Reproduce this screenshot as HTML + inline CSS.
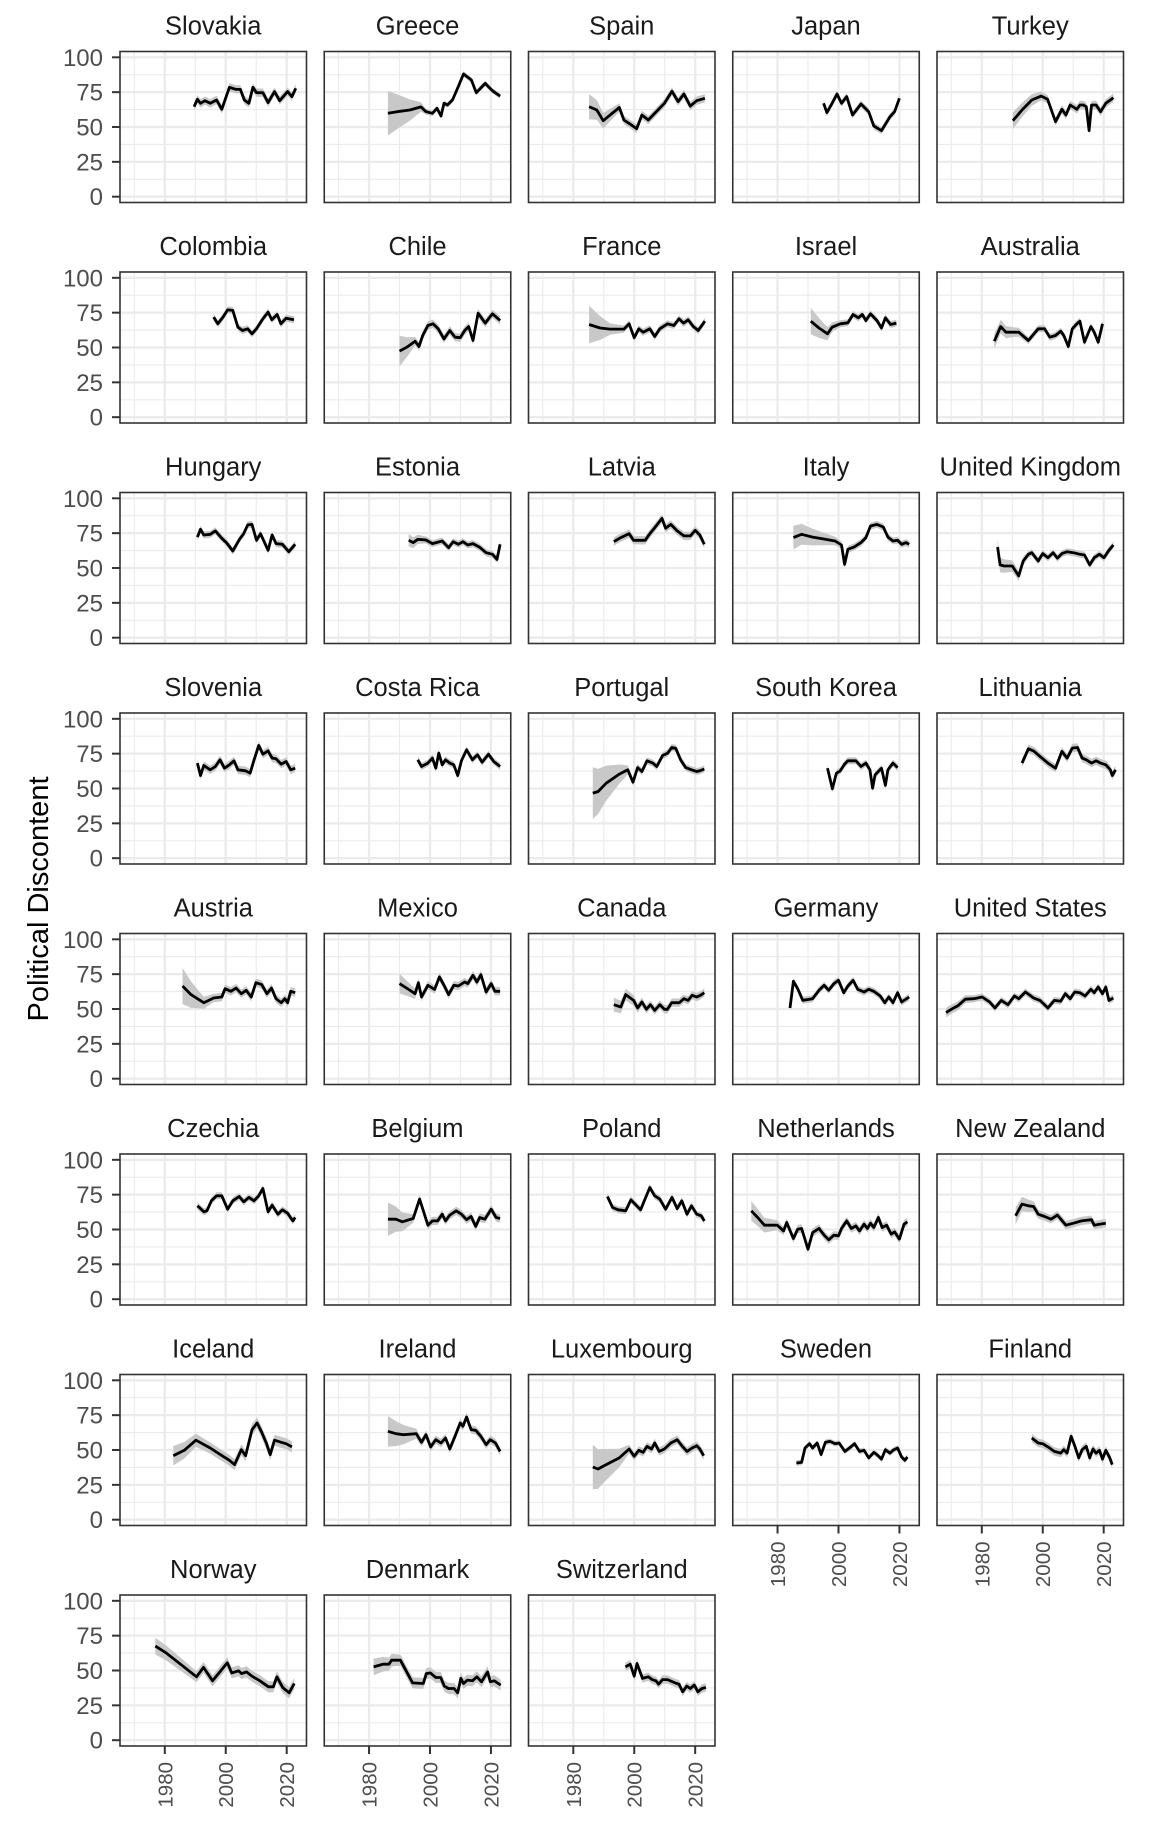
<!DOCTYPE html>
<html><head><meta charset="utf-8"><style>
html,body{margin:0;padding:0;background:#fff;}
svg{display:block;font-family:"Liberation Sans",Arial,sans-serif;}
</style></head><body>
<svg id="chart" width="1152" height="1824" viewBox="0 0 1152 1824" xmlns="http://www.w3.org/2000/svg">
<text transform="translate(48,899) rotate(-90)" text-anchor="middle" font-size="29" fill="#000">Political Discontent</text>
</svg>
<script>
const countries = ["Slovakia","Greece","Spain","Japan","Turkey","Colombia","Chile","France","Israel","Australia","Hungary","Estonia","Latvia","Italy","United Kingdom","Slovenia","Costa Rica","Portugal","South Korea","Lithuania","Austria","Mexico","Canada","Germany","United States","Czechia","Belgium","Poland","Netherlands","New Zealand","Iceland","Ireland","Luxembourg","Sweden","Finland","Norway","Denmark","Switzerland"];
const seriesYears = [
[1989.6,1990.7,1991.7,1993.2,1994.9,1997,1998.7,2001.2,2003.4,2004.8,2006.1,2007.6,2008.9,2010.1,2012.2,2013.9,2016,2017.7,2020.3,2021.7,2023],
[1986.2,1989.2,1993.4,1997,1998.7,2000.8,2002.3,2003.6,2004.6,2005.7,2007.4,2009.3,2011,2013.6,2015.2,2018.1,2020.5,2023],
[1985.2,1987.7,1989.8,1995.1,1996.6,1998.3,2000.8,2002.5,2004.6,2006.7,2009.9,2012.4,2014.4,2016.3,2018.4,2020.5,2023.2],
[1995.1,1996.2,1997.9,1999.5,2001,2002.7,2004.6,2007.4,2009.9,2011.6,2014.1,2016.9,2018.4,2020],
[1990.2,1993.2,1996.4,1999.5,2001.6,2004.2,2006.3,2007.6,2009,2011.2,2012.2,2013.3,2014.3,2015.2,2016,2017.5,2019,2020.7,2023.2],
[1996,1997.4,1999.1,2000.6,2002.3,2004,2005.5,2007.2,2008.6,2010.1,2012.2,2013.9,2015.1,2016.9,2018.1,2019.8,2022.4],
[1990,1992.4,1995.1,1996.4,1997.6,1999.3,2001,2002.7,2004.6,2006.5,2008.2,2009.9,2011.4,2012.7,2014.1,2015.8,2018.1,2020.5,2023],
[1985.2,1988.8,1992,1996.6,1998.3,2000,2001.5,2002.9,2005.1,2006.7,2008.4,2010.9,2013,2014.7,2016.2,2017.7,2019.4,2021,2023.2],
[1990.9,1993.6,1996.4,1997.9,2000.6,2003.1,2004.8,2006.5,2007.8,2009,2010.5,2012.6,2014.1,2015.4,2017.1,2019],
[1984.1,1986.2,1987.9,1992.1,1995.3,1998.5,2000.6,2002.3,2004.2,2005.9,2006.9,2008.4,2009.7,2011.2,2012.2,2013.7,2015.8,2016.9,2018.2,2019.6],
[1990.7,1991.7,1992.8,1994.9,1996.6,1998.7,2000.2,2002.3,2004.5,2005.9,2007.2,2008.6,2010.1,2011.4,2013.9,2015.2,2016.5,2018.6,2020.7,2022.8],
[1993,1994.5,1996,1998.7,2000.8,2004,2006.1,2007.6,2009.3,2010.8,2012.4,2014.1,2016.2,2018.4,2020.5,2022,2023],
[1993.3,1995.6,1998.3,1999.8,2003.6,2005.1,2006.7,2009.1,2010.3,2012,2014.1,2016.3,2018.4,2020,2021.5,2023],
[1985.2,1987.9,1991.5,1994.7,1998.9,2001,2002,2003.1,2005.1,2007.4,2009,2010.5,2012.6,2014.7,2016.2,2017.9,2019.4,2020.7,2022.2,2023.2],
[1985.2,1986,1987.3,1990,1992.1,1993.6,1995.3,1996.4,1998.5,2000,2001.7,2003.4,2004.8,2006.3,2008,2010.1,2012.2,2013.7,2015.4,2016.9,2018.6,2020.1,2021.7,2023.2],
[1990.7,1991.7,1992.8,1994.9,1996.6,1998.1,1999.6,2001.2,2002.7,2004,2006.5,2008,2009.3,2010.8,2012.2,2013.9,2015.2,2016.5,2018.2,2019.8,2021.3,2022.8],
[1996,1997.2,1999.3,2000.8,2001.9,2002.9,2004,2005.1,2006.5,2007.8,2009.1,2010.3,2012,2013.9,2015.6,2017.1,2019.2,2020.9,2023],
[1986.4,1988.1,1990.8,1995.1,1997.9,1999.6,2001.1,2002.5,2004.2,2006.1,2007.4,2009.3,2011,2012.3,2013.6,2015.2,2016.9,2018.8,2020.5,2021.5,2023],
[1996.4,1998,1999.3,2000.6,2002,2003.1,2005.7,2007.4,2009,2010.3,2011.2,2012,2014.1,2015.4,2016.2,2017.9,2019.4],
[1993.2,1995.3,1997,1999.1,2001.7,2004.2,2006.3,2008,2009.7,2011.4,2012.9,2014.3,2016,2017.5,2019,2020.7,2022.2,2022.8,2023.9],
[1985.8,1988.6,1990.7,1992.8,1996,1998.7,1999.8,2001.7,2003.4,2005.1,2006.7,2008.4,2009.9,2011.8,2013.5,2015,2016.5,2018.2,2019.4,2020.3,2021.3,2022.8],
[1990,1993,1995.1,1996.2,1997.2,1999.3,2001.5,2003.1,2004.6,2006.1,2007.8,2009.3,2011.4,2012.4,2014.1,2015.4,2016.7,2018.4,2020.1,2021.3,2023],
[1993.3,1995.6,1997.2,1999.8,2001.1,2002.5,2004,2005.3,2006.7,2008.4,2009.9,2010.9,2012.3,2014.8,2016.3,2017.7,2019,2020.5,2021.7,2023],
[1984.1,1985.2,1986.6,1988.3,1991.5,1993.6,1995.3,1996.8,1998.5,2000,2001.7,2003.1,2004.8,2006.3,2008.4,2009.9,2011.6,2013.7,2015.2,2016.5,2017.9,2019.4,2020.7,2023.2],
[1968.3,1970,1972.1,1974.6,1977.4,1980.1,1982.6,1984.3,1986.4,1988.6,1990.7,1992.1,1994.3,1997,1999.1,2001.7,2003.8,2005.9,2007.4,2009,2010.5,2012.2,2013.9,2015.8,2016.9,2018.2,2019.6,2020.7,2021.7,2023.2],
[1990.7,1991.7,1992.8,1993.8,1995.3,1997,1998.7,2000.6,2002.3,2004.4,2005.9,2007.6,2009.3,2010.8,2012.2,2013.9,2015.2,2017.1,2018.6,2020.3,2022,2022.8],
[1986.2,1988.8,1990.9,1994.5,1996.6,1999.3,2000.8,2002.5,2004,2005.1,2006.5,2008.6,2010.3,2012,2013.5,2015,2016.3,2018,2020.1,2021.7,2023],
[1991.2,1992.9,1994.7,1997.2,1998.9,2002.1,2005.1,2006.7,2008.4,2010.3,2012.4,2014.1,2015.6,2017.3,2018.8,2020.5,2022,2023],
[1971.4,1973.5,1975.7,1979.9,1982,1983,1985.2,1986.6,1987.9,1990,1991.5,1993.6,1995.3,1996.8,1998.5,2000,2001,2002.7,2004.2,2005.7,2006.9,2008.4,2009.5,2010.5,2011.6,2013.1,2014.3,2015.8,2017.3,2018.4,2020,2021.5,2022.6],
[1991.1,1993.2,1995.3,1997,1998.5,2000.6,2002.7,2004.8,2007.6,2010.1,2012.7,2016,2016.9,2018.6,2020.7],
[1982.8,1986.4,1990.2,1994.9,1999.1,2001.2,2002.9,2005.1,2006.5,2008.6,2010.3,2011.8,2013.3,2014.6,2016,2018.2,2019.8,2021.7],
[1986.2,1988.8,1991.3,1995.5,1997.2,1998.7,2000.2,2001.9,2003.6,2005.1,2006.5,2008.2,2009.9,2010.8,2012,2013.5,2015,2016.7,2018.4,2019.8,2021.5,2023],
[1986.4,1988.1,1990.8,1995.1,1998.3,2000,2001.5,2002.9,2004.2,2005.7,2006.7,2008.2,2009.9,2012,2014.1,2015.6,2017.3,2019,2020.5,2021.5,2022.8],
[1986.2,1987.9,1989,1990.5,1991.5,1993,1994.3,1995.7,1997.2,1998.9,2000.2,2002.1,2003.6,2005.3,2006.9,2008.4,2009.9,2011.6,2012.6,2014.1,2015.4,2016.9,2017.9,2019.4,2020.7,2021.8,2022.6],
[1996.4,1998.5,2000,2001.7,2003.8,2005.9,2006.9,2008,2009.3,2010.5,2011.8,2012.9,2014.3,2015.4,2016.5,2017.5,2018.6,2019.6,2020.7,2022,2022.8],
[1976.9,1980.4,1990.4,1992.7,1995.7,2000.5,2002,2004.2,2005.2,2006.8,2008.6,2011.2,2014,2015.6,2016.8,2018.7,2020.8,2022.5],
[1981.5,1984.6,1986.5,1987.4,1990.3,1994.3,1997.8,1998.8,2000.1,2001.9,2003.5,2004.7,2006,2007.9,2009.1,2010.1,2011,2012.3,2013.9,2015.4,2016.9,2018.9,2019.8,2021.1,2023.2],
[1997.1,1998.7,2000,2000.9,2002.7,2004.6,2005.9,2007.1,2008,2009.3,2010.9,2013.4,2014.7,2015.9,2017.2,2018.4,2019.7,2020.9,2022.2,2023.5]
];
const seriesValues = [
[64.6,69.9,67,68.9,67,69.4,62.7,78.5,77,77,69.4,67,78.5,74.6,74.6,67.5,75.4,68.9,75.4,71.8,77.8],
[59.8,61,62.2,64.4,61,59.8,63.4,57.9,67,65.8,69.4,79,88,83.7,74.6,81.3,76,72.2],
[64.6,62.2,54.5,64,55,52.6,48.8,58.6,55,59.8,67,75.6,68.2,73.7,65,68.9,70.6],
[67,60.3,67,73.7,67,71.8,58.6,66.5,61,50.7,47.4,57.4,61,70.6],
[54.5,62.2,69.4,72.2,69.9,53.8,62.7,58.6,65.8,62.7,65.8,65.8,64.6,47.4,65.8,65.8,61,67,71],
[71.8,67,71.8,77,76.6,64.6,62.2,63.4,59.8,63.4,70.6,75.4,69.9,73.7,67,71,69.9],
[47.4,50.2,54.5,50.7,58.6,65.8,67,63.4,56.2,62.2,57.4,57,62.2,65,55,74.6,67.5,74.2,69.4],
[66.5,64,63.2,63.2,67,57,63.4,61,63.4,57.9,63.4,67,65.8,70.6,67.5,69.9,65,62.2,68.9],
[68.9,64,59.8,64.6,67,67.7,73.7,71.3,73.7,69.4,74.2,69.4,64,71.3,66.5,67.5],
[54.5,65,61,61,55,63.4,63.4,57.4,58.6,61.7,58.6,50.7,63.4,67,68.9,53.8,65,61,53.8,67],
[72.2,77.8,73.7,74.2,76.6,71.3,68.2,62.2,70.6,74.6,80.9,81.3,69.9,74.6,62.7,73.7,67.5,67,61.7,67],
[69.9,68.2,70.6,70.1,67.5,69.4,64.6,68.9,67,68.9,66.5,67.5,65,61,59.8,56.2,67],
[68.9,71.8,74.6,69.9,69.9,74.6,78.9,85.6,78.5,81.3,76.6,73,73,77,73.7,67],
[71.8,74.2,72.2,71,69.4,66.5,52.6,63.4,65,68.2,71.8,80.1,81.3,79.4,72.2,69.4,69.9,67,68.2,67],
[65,52.2,51.4,51.4,44.3,55,59.8,61,55,60.3,57.4,61,57,60.3,61.7,61,59.8,59.3,52.2,57.4,59.8,57.4,62.7,66.5],
[68.2,59.3,66.5,63.4,65.8,70.6,64.6,67,69.9,63.4,62.7,61,70.6,80.9,74.6,77,71.8,71.3,67.5,69.4,63.4,64.6],
[70.6,65.8,68.2,71.8,64.6,75.4,67,70.6,68.2,67,59.3,69.9,77.8,70.6,74.2,68.9,74.6,69.4,65.8],
[46.7,47.8,53.8,60.3,63.4,54.5,65,62.2,69.9,68.2,65.8,73.7,75.4,79.4,78.9,70.6,65,63.4,62.2,62.7,64],
[64.6,49.8,61,62.7,67.5,69.9,69.9,65.8,68.2,63.4,50.2,59.8,64.6,52.2,63.4,68.2,65],
[68.2,78.5,77,73,68.2,64.6,76.6,71.8,79,79.4,71.8,70.6,68.2,69.9,68.2,67,63.4,59.3,63.4],
[66.5,60.3,57.4,54.5,57.9,58.6,64.6,62.7,65,61,63.4,58.6,68.9,67.5,61,65,57.4,54.5,57.4,54.5,62.7,61.7],
[68.2,64,61,68.9,58.6,67,64,73,67,60.3,67,66.5,69.4,68.2,74.2,69.4,74.6,62.2,68.2,62.7,62.7],
[53.1,51.4,60.3,56.2,50.7,55,49.8,53.1,49,53.1,49.8,49.8,54.5,54.5,57.4,56.2,59.8,58.6,59.8,61.7],
[50.7,69.9,64.6,56.2,57.4,63.4,67,63.4,68.2,70.6,61.7,66.5,70.6,64.1,62.2,64.1,62.7,59.3,54.5,58.6,54.5,61.7,55,58.6],
[47.4,49.8,52.2,57,57.4,58.6,55,50.7,56.2,53.1,59.3,57.4,62.2,57.9,56.2,50.7,56.2,55.5,61,57.4,62.2,61.7,59.3,64.1,61.7,65.8,61,65.8,56.2,57.9],
[67,65,62.7,63.4,70.6,74.2,74.2,64.6,70.6,73.7,69.9,73,70.6,74.2,79.4,62.7,67.5,61,64.1,61.7,56.2,58.6],
[57.4,57.4,55.5,57.9,71.8,53.1,56.2,56.2,61,56.2,60.3,63.4,61,57,59.3,52.2,58.6,57.4,64.6,58.6,57.9],
[73.7,65.8,64.1,63.4,71.3,64.1,80.1,74.2,71.8,64.6,73,65,70.6,61,67,61,59.8,56.2],
[63.4,58.6,53.1,53.1,49,55,43.5,50.2,50.7,35.9,47.8,50.7,45.9,42.6,45.9,45.5,50.7,56.2,50.7,52.6,49,53.8,50.7,54.5,51.4,58.6,51.4,53.1,46.7,48.3,43.1,53.8,55.5],
[59.8,68.2,67,66.5,61,59.3,57.4,60.3,53.1,54.5,56.2,57,53.1,53.8,54.5],
[45.9,49.8,57,51.4,45.5,42.6,39.5,50.2,45.9,64.6,69.4,62.7,55,46.7,57,55.5,54.5,52.2],
[63.4,61.7,61,61.7,55.5,61,52.2,57.4,55,58.6,50.7,59.8,69.4,67,73.7,64.6,64.1,59.8,53.8,57.4,55,49],
[37.8,36.4,39.5,44.3,50.7,45.5,49.8,48.3,52.6,50.7,55,49,50.7,55,57.4,53.1,49,51.4,53.1,50.7,45.9],
[40.7,41.1,51.4,54.5,51.4,55,46.7,55.5,56.2,54.5,55,49,51.4,54.5,49,49.8,44.3,48.3,46.7,43.5,50.2,47.8,49.8,51.4,45,42.6,45],
[58.6,55,54.5,52.2,49,47.8,50.2,47.8,59.8,53.1,44.3,50.2,52.6,44.3,50.7,47.8,49.8,43.5,49.8,44.3,39.5],
[67.5,62.7,45.5,52.2,42.6,55.5,48.3,49.8,47.8,49,45.9,42.6,38.3,38.3,45.5,37.8,34,40.7],
[52.6,54.5,54.5,57.4,57.4,41.1,40.7,47.8,48.3,45,45,38.8,37.1,37.1,34,44.3,40.7,43.1,42.6,45.5,41.9,49,41.9,42.6,39.5],
[52.6,54.5,45.9,55,44.3,45.5,43.5,42.6,40.2,43.5,43.5,41.1,40.2,34.7,38.8,37.1,39.5,34.7,37.1,37.8]
];
// ribbon half-width: [base, extra at start, decay years]
const bandParams = [[3,0,1],[2,14,12],[3,6,8],[2.5,0,1],[3,3,10],[2.5,0,1],[3,8,5],[2.5,11,8],[2.5,7,8],[2.5,3,10],[2.5,0,1],[2.5,2,5],[3,0,1],[2.5,6,15],[2.5,3,10],[3,0,1],[2.5,0,1],[2.5,16,12],[2.5,0,1],[3,0,1],[3,10,8],[3,4,6],[3,2,10],[2.5,0,1],[2.5,1,10],[2.5,0,1],[3,9,8],[2.5,0,1],[3,4,10],[3,3,8],[4,3,10],[3,8,10],[3,13,12],[2,0,1],[3,0,1],[4,2,10],[4,2,8],[3,0,1]];
const yTicks = [0,25,50,75,100];
const yMinor = [12.5,37.5,62.5,87.5];
const xTicks = [1980,2000,2020];
const xMinor = [1970,1990,2010];

const NS = "http://www.w3.org/2000/svg";
const svg = document.getElementById("chart");
const PW = 186.5, PH = 151, X0 = 120, Y0 = 51.5, DX = 204.25, DY = 220.5;
const XMIN = 1965.3, XMAX = 2026.5, YMIN = -4.17, YMAX = 104.17;
function mk(tag, attrs, parent) { const e = document.createElementNS(NS, tag); for (const k in attrs) e.setAttribute(k, attrs[k]); (parent || svg).appendChild(e); return e; }
const defs = mk("defs", {});

countries.forEach((name, i) => {
  const r = Math.floor(i / 5), c = i % 5;
  const px = X0 + DX * c, py = Y0 + DY * r;
  const sx = y => px + (y - XMIN) / (XMAX - XMIN) * PW;
  const sy = v => py + PH - (v - YMIN) / (YMAX - YMIN) * PH;
  const g = mk("g", {});
  
  
  const cp = mk("clipPath", { id: "cp" + i }, defs);
  mk("rect", { x: px, y: py, width: PW, height: PH }, cp);
  const bg = mk("rect", { x: px, y: py, width: PW, height: PH, fill: "#fff" }, g);
  
  
  yMinor.forEach(v => { mk("line", { x1: px, x2: px + PW, y1: sy(v), y2: sy(v), stroke: "#ebebeb", "stroke-width": 1.1 }, g); });
  xMinor.forEach(v => { mk("line", { x1: sx(v), x2: sx(v), y1: py, y2: py + PH, stroke: "#ebebeb", "stroke-width": 1.1 }, g); });
  yTicks.forEach(v => { mk("line", { x1: px, x2: px + PW, y1: sy(v), y2: sy(v), stroke: "#ebebeb", "stroke-width": 2.3 }, g); });
  xTicks.forEach(v => { mk("line", { x1: sx(v), x2: sx(v), y1: py, y2: py + PH, stroke: "#ebebeb", "stroke-width": 2.3 }, g); });
  const yrs = seriesYears[i], vals = seriesValues[i], bp = bandParams[i];
  const hw = yrs.map(t => bp[0] + bp[1] * Math.max(0, 1 - (t - yrs[0]) / bp[2]));
  let up = yrs.map((t, k) => sx(t).toFixed(1) + "," + sy(vals[k] + hw[k]).toFixed(1));
  let lo = yrs.map((t, k) => sx(t).toFixed(1) + "," + sy(vals[k] - hw[k]).toFixed(1)).reverse();
  const rib = mk("polygon", { points: up.concat(lo).join(" "), fill: "#c8c8c8", "clip-path": "url(#cp" + i + ")" }, g);
  
  
  const ln = mk("polyline", { points: yrs.map((t, k) => sx(t).toFixed(1) + "," + sy(vals[k]).toFixed(1)).join(" "), fill: "none", stroke: "#000", "stroke-width": 2.8, "stroke-linejoin": "round", "clip-path": "url(#cp" + i + ")" }, g);
  
  
  const bd = mk("rect", { x: px, y: py, width: PW, height: PH, fill: "none", stroke: "#333", "stroke-width": 1.6 }, g);
  
  
  const t = mk("text", { x: px + PW / 2, y: py - 17, "text-anchor": "middle", "font-size": 25.5, fill: "#1a1a1a" }, g);
  t.textContent = name;
  
  
  if (c === 0) {
    yTicks.forEach(v => {
      mk("line", { x1: px - 8, x2: px, y1: sy(v), y2: sy(v), stroke: "#333", "stroke-width": 2 }, g);
      const tl = mk("text", { x: px - 17, y: sy(v) + 8.5, "text-anchor": "end", "font-size": 24, fill: "#4d4d4d" }, g);
      tl.textContent = v;
      
      
    });
  }
  const hasX = (r === 7) || (r === 6 && c >= 3);
  if (hasX) {
    xTicks.forEach(v => {
      mk("line", { x1: sx(v), x2: sx(v), y1: py + PH, y2: py + PH + 8, stroke: "#333", "stroke-width": 2 }, g);
      const xl = mk("text", { transform: "translate(" + (sx(v) + 7.5) + "," + (py + PH + 16) + ") rotate(-90)", "text-anchor": "end", "font-size": 20.5, fill: "#4d4d4d" }, g);
      xl.textContent = v;
      
      
    });
  }
});
</script>
</body></html>
